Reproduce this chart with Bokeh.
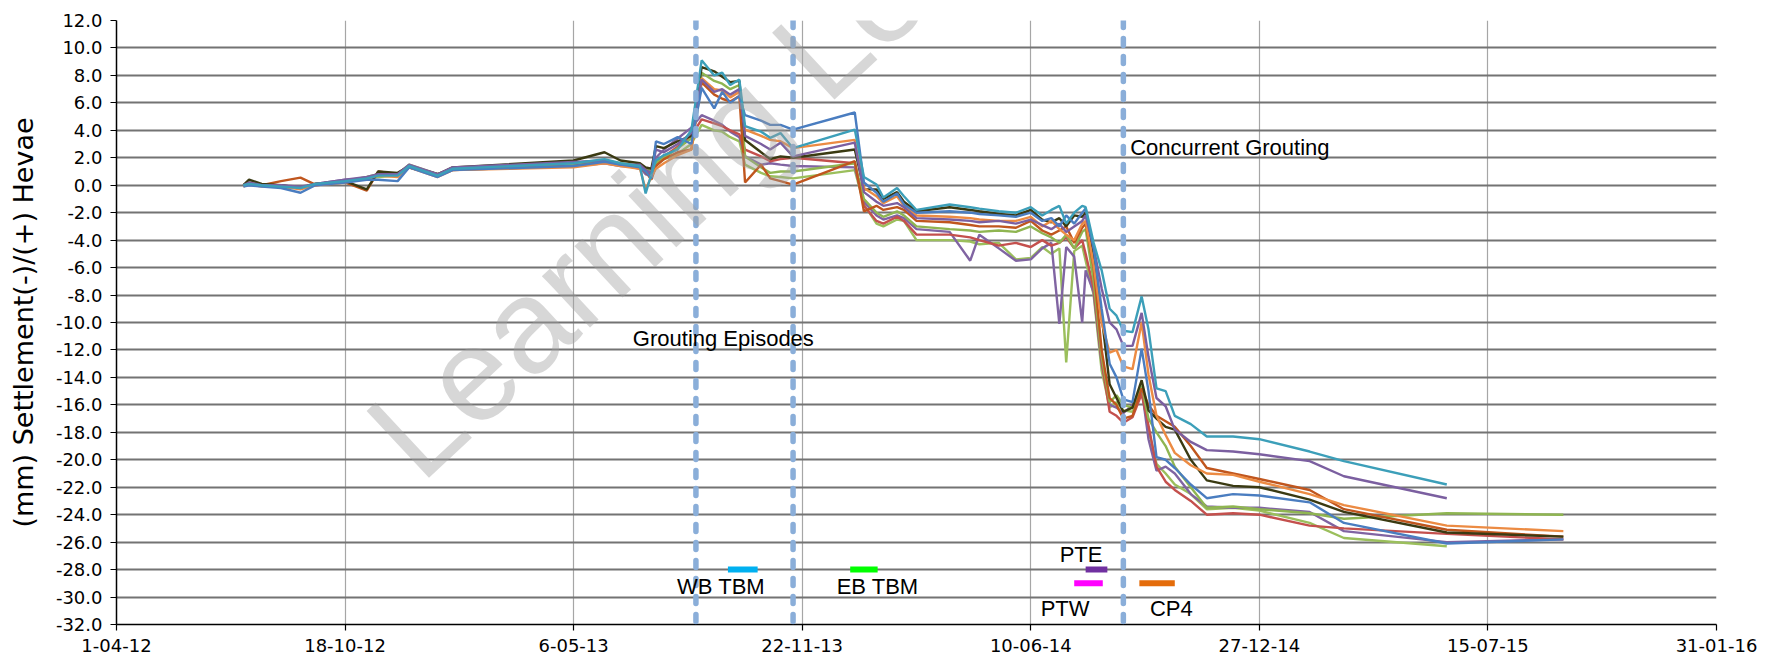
import pandas as pd
from bokeh.plotting import figure
from bokeh.models import FixedTicker, NumeralTickFormatter, Span, Label, Range1d
from bokeh.embed import file_html
from bokeh.resources import INLINE

nan = float("nan")

dates = [
    "2012-07-21", "2012-07-26", "2012-08-06", "2012-08-23", "2012-09-09", "2012-09-22",
    "2012-10-18", "2012-11-06", "2012-11-16", "2012-12-03", "2012-12-13", "2013-01-07",
    "2013-01-20", "2013-05-06", "2013-06-02", "2013-06-16",
    "2013-07-03", "2013-07-08", "2013-07-13", "2013-07-17", "2013-07-24", "2013-08-05", "2013-08-17",
    "2013-08-26", "2013-09-06", "2013-09-13", "2013-09-20", "2013-09-28", "2013-10-03",
    "2013-10-17", "2013-10-25", "2013-11-03", "2013-11-14",
    "2014-01-07", "2014-01-15", "2014-01-26", "2014-02-01", "2014-02-13", "2014-02-19",
    "2014-03-02", "2014-03-31", "2014-04-18", "2014-04-26", "2014-05-13", "2014-05-28", "2014-06-10",
    "2014-06-20", "2014-06-28", "2014-07-05", "2014-07-11", "2014-07-18", "2014-07-25",
    "2014-07-28", "2014-08-04", "2014-08-11", "2014-08-18", "2014-08-24", "2014-08-30",
    "2014-09-07", "2014-09-15", "2014-09-21", "2014-09-28", "2014-10-06", "2014-10-14",
    "2014-10-28", "2014-11-11", "2014-12-04", "2014-12-27", "2015-02-09", "2015-03-11",
    "2015-06-09", "2015-09-19",
]

teal = [0.0, 0.1, 0.0, -0.1, -0.2, 0.1, 0.3, 0.5, 0.7, 0.7, 1.4, 0.7, 1.2, 1.6, 1.9, 1.6,
        1.4, -0.6, 0.8, 1.8, 2.2, 2.6, 4.0,
        9.1, 8.0, 8.2, 7.3, 7.7, 4.3, 3.9, 3.45, 3.8, 2.7,
        4.05, 0.6, 0.05, -0.9, -0.2, -0.8, -1.8, -1.4, -1.6, -1.7, -1.9, -2.0, -1.6,
        -2.2, -1.8, -1.5, -2.8, -2.0, -1.5, -1.6, -4.2, -6.2, -9.0, -9.5, -10.6, -10.7, -8.1,
        -10.5, -14.8, -15.0, -16.8,
        -17.4, -18.3, -18.3, -18.5, -19.4, -20.1, -21.8, nan]
purple_a = [0.0, 0.2, 0.0, 0.0, -0.1, 0.1, 0.4, 0.6, 0.8, 0.8, 1.5, 0.8, 1.3, 1.7, 1.8, 1.5,
            1.5, 1.1, 0.9, 2.6, 2.4, 3.0, 3.8,
            7.7, 6.8, 7.0, 6.6, 7.0, 3.6, 3.0, 2.6, 3.1, 2.1,
            3.1, -0.5, -1.2, -1.5, -1.3, -1.6, -2.4, -2.5, -2.6, -2.7, -2.6, -2.8, -2.5,
            -2.9, -3.2, -2.8, -3.4, -3.0, -2.6, -2.2, -4.5, -7.5, -10.0, -10.5, -11.7, -11.7, -9.3,
            -12.5, -15.5, -16.1, -17.8,
            -18.7, -19.3, -19.4, -19.6, -20.1, -21.2, -22.8, nan]
orange = [-0.1, 0.1, -0.1, -0.1, -0.3, 0.0, 0.2, 0.5, 0.7, 0.6, 1.3, 0.6, 1.1, 1.3, 1.6, 1.4,
          1.2, -0.3, 0.6, 1.2, 1.6, 2.2, 2.6,
          7.8, 7.0, 6.9, 6.4, 6.8, 4.05, 3.6, 3.3, 3.2, 2.7,
          3.3, -0.2, -0.8, -1.3, -0.8, -1.5, -2.2, -2.3, -2.4, -2.5, -2.6, -2.6, -2.3,
          -3.0, -2.6, -3.2, -3.6, -4.0, -2.8, -2.6, -5.8, -10.0, -12.2, -12.0, -13.2, -13.4, -10.0,
          -13.8, -16.8, -18.2, -19.5,
          -20.4, -21.0, -21.1, -21.6, -22.5, -23.3, -24.8, -25.2]
dark_olive = [0.0, 0.4, 0.1, 0.0, -0.2, 0.1, 0.3, -0.3, 1.0, 0.9, 1.4, 0.8, 1.3, 1.8, 2.4, 1.8,
              1.6, 1.3, 1.2, 2.85, 2.7, 3.2, 3.6,
              8.6, 8.3, 7.9, 7.5, 7.6, 3.3, 2.4, 1.9, 2.1, 2.0,
              2.6, -0.3, -0.3, -1.0, -0.5, -1.2, -1.9, -1.6, -1.8, -1.9, -2.1, -2.2, -1.8,
              -2.5, -2.7, -2.4, -3.0, -2.2, -2.3, -2.0, -5.0, -9.5, -14.5, -15.5, -16.5, -16.2, -14.2,
              -16.4, -17.0, -17.6, -17.8,
              -20.0, -21.5, -21.9, -22.0, -22.9, -23.8, -25.3, -25.6]
brown = [0.0, 0.1, 0.0, 0.3, 0.55, 0.05, 0.2, -0.4, 1.0, 0.8, 1.3, 0.7, 1.1, 1.4, 1.7, 1.5,
         1.3, 1.0, 0.4, 1.4, 1.9, 2.4, 2.6,
         7.5, 6.6, 6.3, 6.1, 6.5, 0.2, 1.5, 0.5, 0.3, 0.05,
         1.75, -1.9, -1.5, -1.8, -1.6, -1.8, -2.6, -2.7, -2.9, -3.0, -3.0, -3.1, -2.6,
         -3.3, -3.6, -3.3, -3.0, -4.2, -3.1, -2.8, -6.0, -12.0, -15.5, -16.0, -17.0, -16.8, -14.8,
         -16.0, -16.8, -17.2, -17.6,
         -19.0, -20.6, -21.0, -21.4, -22.2, -23.6, -25.1, -25.6]
green_a = [0.0, 0.2, 0.0, 0.0, -0.2, 0.1, 0.3, 0.6, 0.8, 0.8, 1.5, 0.8, 1.2, 1.5, 1.8, 1.6,
           1.4, 1.2, 1.0, 1.6, 2.0, 2.7, 3.4,
           8.2, 7.6, 7.4, 7.0, 7.3, 2.1, 1.3, 0.9, 1.0, 1.0,
           1.6, -1.0, -2.0, -2.3, -1.9, -2.2, -3.0, -3.2, -3.3, -3.4, -3.3, -3.4, -3.0,
           -3.5, -3.8, -4.2, -3.6, -4.6, -3.4, -3.2, -7.0, -12.5, -15.8, -15.3, -16.0, -16.2, -14.6,
           -17.0, -18.0, -19.0, -20.5,
           -22.0, -23.5, -23.4, -23.6, -23.9, -24.3, -23.9, -24.0]
red = [0.0, 0.1, 0.0, -0.1, -0.2, 0.0, 0.3, 0.5, 0.7, 0.7, 1.3, 0.7, 1.2, 1.5, 1.7, 1.5,
       1.2, 1.0, 0.8, 1.6, 2.1, 2.8, 3.6,
       4.8, 4.5, 4.3, 4.0, 3.7, 2.6, 2.1, 1.75, 1.9, 2.0,
       1.6, -1.5, -2.6, -2.8, -2.3, -2.6, -3.6, -3.6, -3.8, -4.0, -4.4, -4.2, -4.5,
       -4.0, -4.4, -4.2, -3.8, -4.6, -4.0, -5.0, -7.5, -12.8, -16.5, -16.8, -17.3, -16.9, -15.2,
       -17.5, -20.5, -21.6, -22.2,
       -23.0, -24.0, -23.9, -24.0, -24.8, -25.0, -25.4, -25.8]
blue = [-0.1, 0.0, -0.1, -0.2, -0.55, 0.0, 0.2, 0.4, 0.4, 0.3, 1.3, 0.6, 1.1, 1.4, 1.7, 1.5,
        1.3, 1.0, 0.5, 3.2, 3.0, 3.5, 3.0,
        7.1, 5.6, 6.8, 6.0, 6.5, 5.1, 4.7, 4.4, 4.4, 4.05,
        5.3, 0.2, -0.55, -1.2, -0.6, -1.4, -2.0, -1.9, -2.0, -2.1, -2.2, -2.3, -2.0,
        -2.6, -2.4, -3.0, -2.2, -2.8, -2.0, -1.7, -4.6, -9.0, -13.0, -14.0, -15.6, -15.8, -11.9,
        -15.0, -19.8, -20.0, -20.6,
        -21.8, -22.8, -22.5, -22.6, -23.1, -24.6, -26.1, -25.8]
purple_b = [0.0, 0.1, 0.0, -0.1, -0.2, 0.1, 0.4, 0.5, 0.8, 0.7, 1.4, 0.8, 1.2, 1.4, 1.6, 1.4,
            1.3, 0.8, 0.7, 2.0, 2.6, 3.4, 4.2,
            5.1, 4.7, 4.4, 3.9, 3.5, 2.1, 1.5, 1.6, 1.5, 1.4,
            1.3, -1.2, -2.2, -2.5, -2.2, -2.4, -3.2, -3.4, -5.5, -3.6, -4.6, -5.5, -5.4,
            -4.6, -4.2, -10.1, -4.5, -5.2, -10.0, -6.2, -7.8, -13.0, -16.0, -16.2, -16.6, -16.0, -14.8,
            -18.5, -20.8, -20.5, -21.0,
            -22.5, -23.4, -23.5, -23.5, -23.8, -25.2, -26.0, -25.8]
green_b = [0.0, 0.1, 0.0, -0.1, -0.2, 0.1, 0.3, 0.5, 0.6, 0.7, 1.3, 0.7, 1.2, 1.5, 1.7, 1.5,
           1.3, 1.1, 0.9, 1.5, 1.9, 2.3, 3.0,
           4.4, 4.0, 3.9, 3.5, 3.2, 1.5, 0.9, 0.65, 0.6, 0.5,
           1.1, -1.4, -2.8, -3.0, -2.5, -2.6, -4.0, -4.0, -4.1, -4.3, -4.2, -5.4, -5.3,
           -4.5, -5.0, -4.6, -12.9, -4.8, -4.4, -5.5, -8.0, -13.5, -16.2, -15.8, -16.4, -16.5, -15.0,
           -17.8, -20.3, -21.0, -21.8,
           -22.5, -23.6, -23.5, -23.7, -24.6, -25.7, -26.3, nan]

series = [
    (green_b, "#9bbf5c"), (purple_b, "#8064a2"), (red, "#c4504d"), (green_a, "#8fb551"),
    (brown, "#c0561e"), (dark_olive, "#3a3a12"), (orange, "#ec8b43"), (purple_a, "#7b5fa0"),
    (blue, "#4a7dc0"), (teal, "#3c9fb9"),
]

tick_dates = ["2012-04-01", "2012-10-18", "2013-05-06", "2013-11-22",
              "2014-06-10", "2014-12-27", "2015-07-15", "2016-01-31"]
tick_labels = ["1-04-12", "18-10-12", "6-05-13", "22-11-13",
               "10-06-14", "27-12-14", "15-07-15", "31-01-16"]
y_ticks = [-32, -30, -28, -26, -24, -22, -20, -18, -16, -14, -12, -10, -8, -6, -4, -2,
           0, 2, 4, 6, 8, 10, 12]

guide_dates = ["2013-08-21", "2013-11-14", "2014-08-30"]

bar_start = ["2013-09-18", "2014-01-03", "2014-07-28", "2014-07-18", "2014-09-13"]
bar_end = ["2013-10-14", "2014-01-27", "2014-08-16", "2014-08-12", "2014-10-14"]
bar_y = [-28, -28, -28, -29, -29]
bar_color = ["#00b0f0", "#00ff00", "#7030a0", "#ff00ff", "#e46c0a"]

note_text = ["Grouting Episodes", "Concurrent Grouting", "WB TBM", "EB TBM", "PTE", "PTW", "CP4"]
note_date = ["2013-09-14", "2014-09-05", "2013-09-12", "2014-01-27", "2014-07-24", "2014-07-10", "2014-10-11"]
note_y = [-11.2, 2.75, -29.2, -29.2, -26.9, -30.8, -30.8]
note_align = ["center", "left", "center", "center", "center", "center", "center"]


def ms(d):
    return pd.Timestamp(d).value / 1e6


p = figure(width=1770, height=664, x_axis_type="datetime", output_backend="svg",
           toolbar_location=None, min_border_left=116, min_border_right=54,
           min_border_top=20, min_border_bottom=40)
p.x_range = Range1d(ms(tick_dates[0]), ms(tick_dates[-1]))
p.y_range = Range1d(-32, 12)
p.outline_line_color = None
p.background_fill_color = "white"
p.border_fill_color = "white"

tick_ms = [ms(d) for d in tick_dates]
p.xaxis.ticker = FixedTicker(ticks=tick_ms)
p.xaxis.major_label_overrides = {int(t): lab for t, lab in zip(tick_ms, tick_labels)}
p.yaxis.ticker = FixedTicker(ticks=y_ticks)
p.yaxis.formatter = NumeralTickFormatter(format="0.0")

for ax in (p.xaxis[0], p.yaxis[0]):
    ax.axis_line_color = "black"
    ax.axis_line_width = 1.5
    ax.major_tick_line_color = "black"
    ax.major_tick_line_width = 1.2
    ax.major_tick_in = 0
    ax.major_tick_out = 6
    ax.minor_tick_line_color = None
    ax.major_label_text_font = "DejaVu Sans"
    ax.major_label_text_font_size = "18px"
    ax.major_label_text_color = "black"
p.xaxis.major_label_standoff = 8
p.yaxis.major_label_standoff = 8
p.yaxis.axis_label = "(mm) Settlement(-)/(+) Hevae"
p.yaxis.axis_label_text_font = "DejaVu Sans"
p.yaxis.axis_label_text_font_size = "27px"
p.yaxis.axis_label_text_font_style = "normal"
p.yaxis.axis_label_text_color = "black"
p.yaxis.axis_label_standoff = 14

p.ygrid.grid_line_color = "#737373"
p.ygrid.grid_line_width = 2
p.xgrid.grid_line_color = "#a6a6a6"
p.xgrid.grid_line_width = 1.2

x = pd.to_datetime(dates)
for vals, col in series:
    p.line(x, vals, line_color=col, line_width=2.4)

p.segment(x0=pd.to_datetime(bar_start), y0=bar_y, x1=pd.to_datetime(bar_end), y1=bar_y,
          line_color=bar_color, line_width=6)

for g in guide_dates:
    p.add_layout(Span(location=ms(g), dimension="height", line_color="#8aaed9",
                      line_width=5.5, line_dash="7 11", line_cap="round"))

for t, d, yv, al in zip(note_text, note_date, note_y, note_align):
    p.add_layout(Label(x=ms(d), y=yv, text=t, text_align=al, text_baseline="middle",
                       text_font="Liberation Sans", text_font_size="22px", text_color="black"))

p.add_layout(Label(x=ms("2012-11-26"), y=-19.4, text="Learning Lessons", angle=43,
                   angle_units="deg", text_align="left", text_baseline="alphabetic",
                   text_font="Liberation Sans", text_font_size="133px",
                   text_color="#a0a0a0", text_alpha=0.42))

open("out.html", "w").write(file_html(p, INLINE))
